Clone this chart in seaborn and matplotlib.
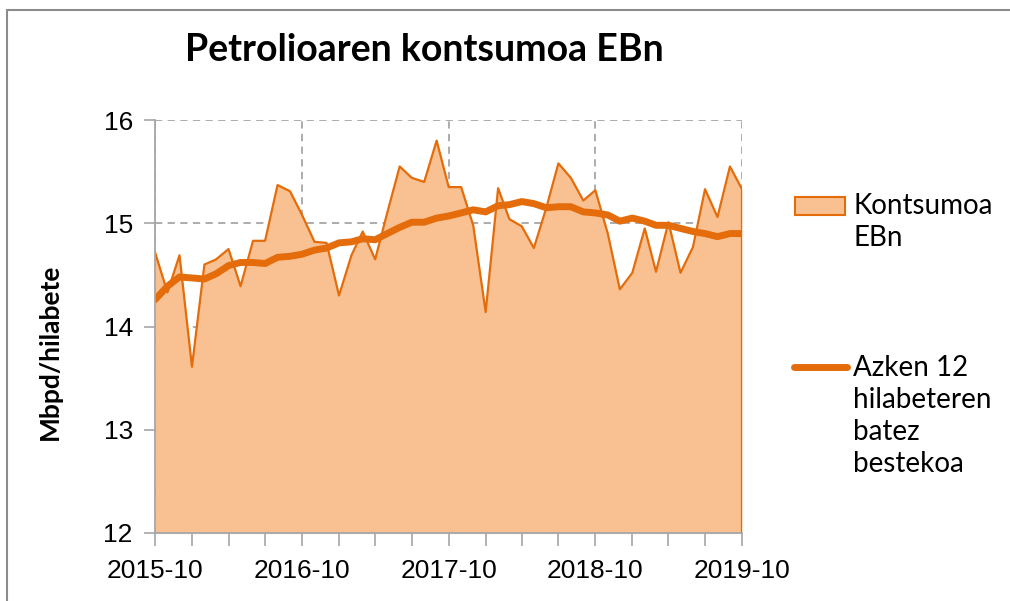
import numpy as np
import pandas as pd
import matplotlib
matplotlib.use("Agg")
import matplotlib.pyplot as plt
import matplotlib.dates as mdates
from matplotlib.patches import Rectangle
from matplotlib.lines import Line2D
import seaborn as sns

# monthly data, 2015-10 .. 2019-10
start_month = "2015-10-01"
consumption = [14.72, 14.33, 14.69, 13.61, 14.60, 14.65, 14.75, 14.39, 14.83, 14.83,
               15.37, 15.31, 15.08, 14.82, 14.81, 14.30, 14.69, 14.92, 14.65, 15.10,
               15.55, 15.44, 15.40, 15.80, 15.35, 15.35, 14.98, 14.14, 15.34, 15.04,
               14.97, 14.76, 15.15, 15.58, 15.44, 15.22, 15.32, 14.90, 14.36, 14.52,
               14.95, 14.53, 15.01, 14.52, 14.77, 15.33, 15.06, 15.55, 15.33]
moving_avg = [14.26, 14.39, 14.48, 14.47, 14.46, 14.51, 14.59, 14.62, 14.62, 14.61,
              14.67, 14.68, 14.70, 14.74, 14.76, 14.81, 14.82, 14.85, 14.84, 14.90,
              14.96, 15.01, 15.01, 15.05, 15.07, 15.10, 15.13, 15.11, 15.17, 15.18,
              15.21, 15.19, 15.15, 15.16, 15.16, 15.11, 15.10, 15.08, 15.02, 15.05,
              15.02, 14.98, 14.98, 14.95, 14.92, 14.90, 14.87, 14.90, 14.90]
y_ticks = [12, 13, 14, 15, 16]

title = "Petrolioaren kontsumoa EBn"
y_label = "Mbpd/hilabete"
label_cons = "Kontsumoa\nEBn"
label_avg = "Azken 12\nhilabeteren\nbatez\nbestekoa"

fill_color = "#F9C192"
line_color = "#E46C0A"
grid_color = "#A6A6A6"

df = pd.DataFrame({
    "date": pd.date_range(start_month, periods=len(consumption), freq="MS"),
    "consumption": consumption,
    "moving_avg": moving_avg,
})

sns.set_theme(style="white")
plt.rcParams["font.family"] = ["Liberation Sans", "DejaVu Sans"]
plt.rcParams["text.color"] = "black"

fig = plt.figure(figsize=(10.1, 6.01), dpi=100)
ax = fig.add_axes([155 / 1010, 1 - 533 / 601, (742 - 155) / 1010, (533 - 120) / 601])

# gridlines behind the area
ax.set_axisbelow(True)
ax.grid(True, axis="both", which="major", color=grid_color, linestyle=(0, (4, 3)), linewidth=1.3)

ax.fill_between(df["date"], y_ticks[0], df["consumption"], color=fill_color, linewidth=0, zorder=2)
sns.lineplot(data=df, x="date", y="consumption", ax=ax, color=line_color, linewidth=1.6, zorder=3)
ax.vlines(df["date"].iloc[-1], y_ticks[0], df["consumption"].iloc[-1], color=line_color, linewidth=1.6, zorder=3)
sns.lineplot(data=df, x="date", y="moving_avg", ax=ax, color=line_color, linewidth=5, zorder=4)

ax.set_xlim(df["date"].iloc[0], df["date"].iloc[-1])
ax.set_ylim(y_ticks[0], y_ticks[-1])
ax.set_yticks(y_ticks)
ax.xaxis.set_major_locator(mdates.MonthLocator(bymonth=10))
ax.xaxis.set_minor_locator(mdates.MonthLocator(bymonth=[1, 4, 7, 10]))
ax.xaxis.set_major_formatter(mdates.DateFormatter("%Y-%m"))
ax.set_xlabel("")
ax.set_ylabel("")

for side in ["top", "right"]:
    ax.spines[side].set_visible(False)
for side in ["left", "bottom"]:
    ax.spines[side].set_color(grid_color)
    ax.spines[side].set_linewidth(1.3)
    ax.spines[side].set_zorder(5)

ax.tick_params(axis="both", which="both", direction="out", color=grid_color, width=1.2,
               labelsize=19, labelcolor="black")
ax.tick_params(axis="x", which="both", length=9, pad=10)
ax.tick_params(axis="y", which="major", length=8, pad=8, left=True)
ax.tick_params(axis="x", which="major", bottom=True)
ax.tick_params(axis="x", which="minor", bottom=True)

fig.text(424 / 1010, 1 - 50 / 601, title, ha="center", va="center", color="black",
         fontsize=27, fontweight="bold", family=["Lato", "DejaVu Sans"])
fig.text(50 / 1010, 1 - 352 / 601, y_label, ha="center", va="center", rotation=90, color="black",
         fontsize=19, fontweight="bold", family=["Lato", "DejaVu Sans"])

# legend to the right, handles aligned with the first text line
fig.add_artist(Rectangle((795 / 1010, 1 - 215 / 601), 50 / 1010, 18 / 601,
                         facecolor=fill_color, edgecolor=line_color, linewidth=1.5,
                         transform=fig.transFigure))
fig.add_artist(Line2D([794 / 1010, 847 / 1010], [1 - 367 / 601, 1 - 367 / 601],
                      color=line_color, linewidth=5, solid_capstyle="round",
                      transform=fig.transFigure))
fig.text(853 / 1010, 1 - 193 / 601, label_cons, ha="left", va="top", fontsize=20, color="black",
         linespacing=1.29, family=["Lato", "DejaVu Sans"])
fig.text(853 / 1010, 1 - 355 / 601, label_avg, ha="left", va="top", fontsize=20, color="black",
         linespacing=1.29, family=["Lato", "DejaVu Sans"])

# chart frame (top and left edges)
fig.add_artist(Line2D([7 / 1010, 7 / 1010], [0, 1 - 10 / 601], color="#8C8C8C", linewidth=1.5,
                      transform=fig.transFigure))
fig.add_artist(Line2D([7 / 1010, 1], [1 - 10 / 601, 1 - 10 / 601], color="#8C8C8C", linewidth=1.5,
                      transform=fig.transFigure))

fig.savefig("out.png", dpi=100, facecolor="white")
